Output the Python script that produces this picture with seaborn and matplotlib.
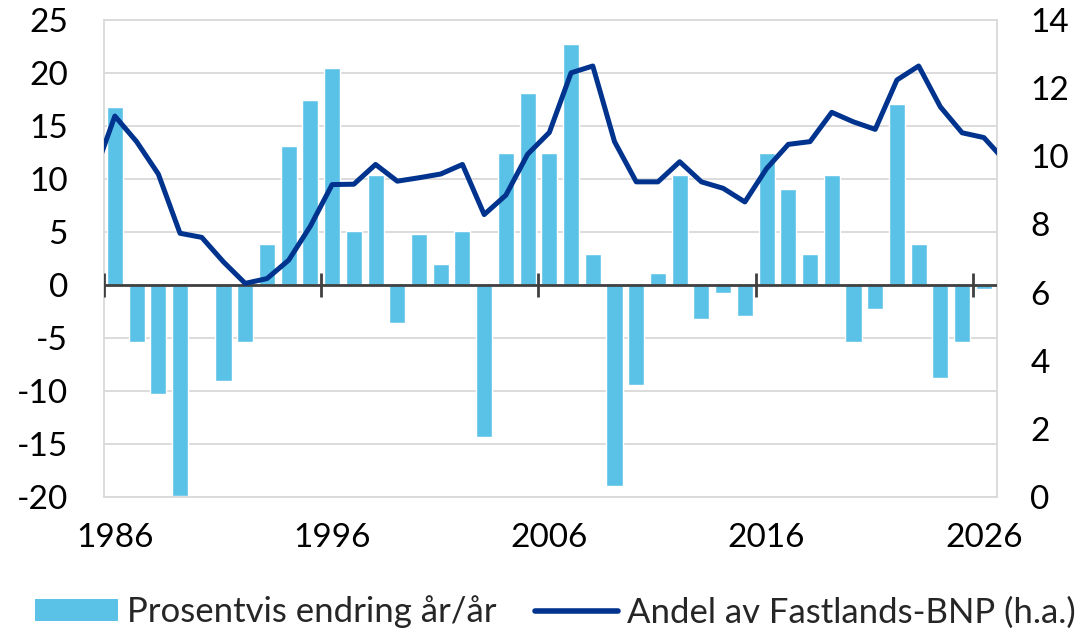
import numpy as np
import pandas as pd
import matplotlib
matplotlib.use("Agg")
import matplotlib.pyplot as plt
import seaborn as sns
from matplotlib.patches import Patch
from matplotlib.lines import Line2D

# ---- data ----
bar_years = list(range(1986, 2028))
pct_change = [16.8, -5.4, -10.3, -19.9, 0.0, -9.05, -5.4, 3.85, 13.1, 17.5,
              20.5, 5.1, 10.4, -3.55, 4.8, 2.0, 5.1, -14.3, 12.5, 18.1,
              12.5, 22.7, 2.9, -19.0, -9.4, 1.1, 10.4, -3.2, -0.75, -2.9,
              12.5, 9.1, 2.9, 10.4, -5.4, -2.3, 17.1, 3.85, -8.8, -5.4,
              -0.4, -1.9]
line_years = list(range(1985, 2028))
share_gdp = [9.4, 11.18, 10.43, 9.48, 7.74, 7.62, 6.9, 6.27, 6.41, 6.95,
             7.95, 9.17, 9.18, 9.76, 9.27, 9.37, 9.48, 9.76, 8.29, 8.86,
             10.06, 10.7, 12.45, 12.65, 10.43, 9.25, 9.25, 9.84, 9.25, 9.06,
             8.66, 9.64, 10.35, 10.43, 11.29, 11.01, 10.79, 12.24, 12.65, 11.45,
             10.69, 10.55, 9.85]
label_years = [1986, 1996, 2006, 2016, 2026]
left_ticks = [-20, -15, -10, -5, 0, 5, 10, 15, 20, 25]
right_ticks = [0, 2, 4, 6, 8, 10, 12, 14]
bar_label = "Prosentvis endring år/år"
line_label = "Andel av Fastlands-BNP (h.a.)"

bars_df = pd.DataFrame({"year": bar_years, "change": pct_change})
line_df = pd.DataFrame({"year": line_years, "share": share_gdp})

BAR_C = "#5BC2E7"
LINE_C = "#00338D"
GRID_C = "#D9D9D9"
AXIS_C = "#404040"

sns.set_theme(style="white")
plt.rcParams["font.family"] = ["Lato", "DejaVu Sans"]
FS = 24

fig = plt.figure(figsize=(10.76, 6.31), dpi=100)
ax = fig.add_axes([104 / 1076, 1 - 497 / 631, (997 - 104) / 1076, (497 - 20) / 631])

sns.barplot(data=bars_df, x="year", y="change", native_scale=True, width=0.74,
            color=BAR_C, saturation=1, ax=ax, zorder=2)

x_left = label_years[0] - 0.5
x_right = label_years[-1] + 0.5 + 0.106
ax.set_xlim(x_left, x_right)
ax.set_ylim(left_ticks[0], left_ticks[-1])
ax.set_yticks(left_ticks)
ax.set_yticklabels([str(v) for v in left_ticks])
ax.set_xticks(label_years)
ax.set_xticklabels([str(y) for y in label_years])
ax.tick_params(axis="both", length=0, labelsize=FS, colors="black")
ax.tick_params(axis="y", pad=26)
ax.tick_params(axis="x", pad=19)
ax.set_xlabel("")
ax.set_ylabel("")
ax.yaxis.grid(True, color=GRID_C, linewidth=1.3, zorder=0)
ax.set_axisbelow(True)
for s in ax.spines.values():
    s.set_color(GRID_C)
    s.set_linewidth(1.3)

# zero axis line with cross ticks at decade boundaries
ax.axhline(0, color=AXIS_C, linewidth=2.0, zorder=3)
boundaries = [y - 0.5 for y in label_years]
ax.vlines(boundaries, -1.15, 1.15, color=AXIS_C, linewidth=2.0, zorder=3)

ax2 = ax.twinx()
sns.lineplot(data=line_df, x="year", y="share", color=LINE_C, linewidth=3.6,
             ax=ax2, legend=False)
ax2.set_xlim(x_left, x_right)
ax2.set_ylim(right_ticks[0], right_ticks[-1])
ax2.set_yticks(right_ticks)
ax2.set_yticklabels([str(v) for v in right_ticks])
ax2.tick_params(axis="y", length=0, labelsize=FS, pad=24, colors="black")
ax2.set_ylabel("")
ax2.set_xlabel("")
for s in ax2.spines.values():
    s.set_visible(False)

handles = [Patch(facecolor=BAR_C, edgecolor="none", label=bar_label),
           Line2D([0], [0], color=LINE_C, linewidth=4, label=line_label)]
fig.legend(handles=handles, loc="center", bbox_to_anchor=(0.516, 1 - 612 / 631),
           ncol=2, frameon=False, fontsize=25, handlelength=2.4,
           handleheight=0.58, handletextpad=0.25, columnspacing=1.1,
           borderaxespad=0, borderpad=0)

fig.savefig("out.png", dpi=100)
